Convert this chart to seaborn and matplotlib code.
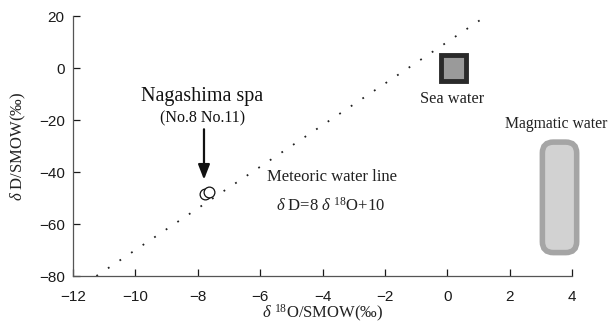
import matplotlib
matplotlib.use("Agg")
import matplotlib.pyplot as plt
import pandas as pd
import seaborn as sns
from matplotlib.patches import Rectangle, FancyBboxPatch

# Datos
meteoric_o18 = [-11.25, 1.25]
meteoric_d = [-80, 20]
spa_o18 = [-7.78, -7.64]
spa_d = [-48.5, -47.8]
sea_o18 = 0.2
sea_d = 0.0
magma_o18 = [3.05, 4.15]
magma_d = [-71, -28.5]
x_ticks = [-12, -10, -8, -6, -4, -2, 0, 2, 4]
y_ticks = [20, 0, -20, -40, -60, -80]

sns.set_style("ticks")
plt.rcParams['font.family'] = ['Liberation Sans', 'DejaVu Sans']
plt.rcParams['mathtext.fontset'] = 'custom'
plt.rcParams['mathtext.rm'] = 'Liberation Serif'
plt.rcParams['mathtext.it'] = 'Liberation Serif:italic'
serif = ['Liberation Serif', 'DejaVu Serif']

fig = plt.figure(figsize=(6.14, 3.26), dpi=100)
ax = fig.add_axes([73 / 614, 50 / 326, 499 / 614, 260 / 326])

# Linea de agua meteorica
df_line = pd.DataFrame({'o18': meteoric_o18, 'd': meteoric_d})
sns.lineplot(data=df_line, x='o18', y='d', ax=ax, color='#222222',
             linestyle=(0, (1, 6.7)), linewidth=1.3)

# Puntos de Nagashima spa
df_spa = pd.DataFrame({'o18': spa_o18, 'd': spa_d})
sns.scatterplot(data=df_spa, x='o18', y='d', ax=ax, s=60, marker='o',
                facecolor='white', edgecolor='#111111', linewidth=0.9, zorder=5)

# Sea water (cuadro)
ax.add_patch(Rectangle((sea_o18 - 0.4, sea_d - 4.9), 0.8, 9.8,
                       facecolor='#9a9a9a', edgecolor='#2a2a2a', linewidth=3.5, zorder=4))

# Magmatic water (rectangulo redondeado)
ax.add_patch(FancyBboxPatch((magma_o18[0], magma_d[0]), magma_o18[1] - magma_o18[0],
                            magma_d[1] - magma_d[0],
                            boxstyle="round,pad=0,rounding_size=0.35",
                            mutation_aspect=12,
                            facecolor='#d2d2d2', edgecolor='#a5a5a5', linewidth=4,
                            clip_on=False, zorder=4))

ax.set_xlim(-12, 4)
ax.set_ylim(-80, 20)
ax.set_xticks(x_ticks)
ax.set_yticks(y_ticks)
ax.tick_params(direction='in', length=5, width=0.9, labelsize=11, colors='#1a1a1a')
ax.tick_params(axis='x', pad=10)
ax.tick_params(axis='y', pad=6)
for s in ['top', 'right']:
    ax.spines[s].set_visible(False)
for s in ['left', 'bottom']:
    ax.spines[s].set_color('#555555')
    ax.spines[s].set_linewidth(0.9)

ax.set_xlabel(r'$\delta$ $^{18}$O/SMOW(‰)', family=serif, fontsize=12, labelpad=-1,
              color='#222222')
ax.set_ylabel(r'$\delta$ D/SMOW(‰)', family=serif, fontsize=12, labelpad=8,
              color='#222222')

ax.text(-7.85, -11, 'Nagashima spa', family=serif, fontsize=14.5, ha='center',
        va='center', color='#111111')
ax.text(-7.85, -19.5, '(No.8 No.11)', family=serif, fontsize=11.5, ha='center',
        va='center', color='#111111')
ax.annotate('', xy=(-7.8, -44), xytext=(-7.8, -22.5),
            arrowprops=dict(arrowstyle='-|>,head_length=0.9,head_width=0.35',
                            color='#111111', lw=1.6))
ax.text(-3.7, -42, 'Meteoric water line', family=serif, fontsize=12, ha='center',
        va='center', color='#222222')
ax.text(-3.75, -53, r'$\delta$ D=8 $\delta$ $^{18}$O+10', family=serif, fontsize=12,
        ha='center', va='center', color='#222222')
ax.text(0.15, -12, 'Sea water', family=serif, fontsize=11.8, ha='center',
        va='center', color='#222222')
ax.text(3.5, -21.5, 'Magmatic water', family=serif, fontsize=11.3, ha='center',
        va='center', color='#222222', clip_on=False)

fig.savefig('out.png', dpi=100)
